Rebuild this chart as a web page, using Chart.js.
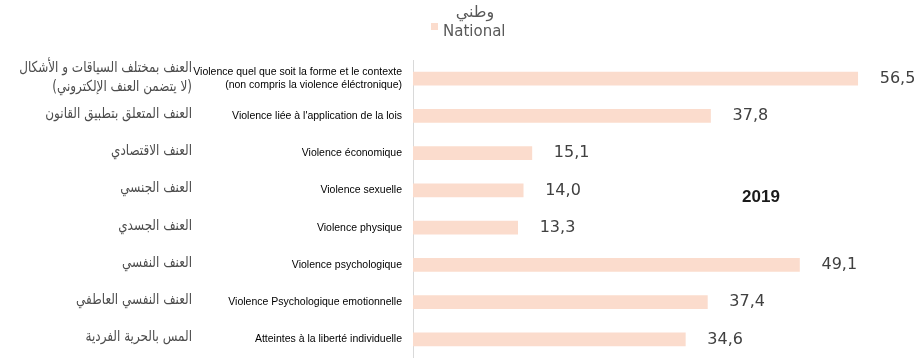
<!DOCTYPE html>
<html>
<head>
<meta charset="utf-8">
<script src="https://cdn.jsdelivr.net/npm/chart.js@4/dist/chart.umd.min.js"></script>
<style>
  html, body { margin: 0; padding: 0; background: #fff; }
  #wrap { width: 922px; height: 358px; position: relative; }
</style>
</head>
<body>
<div id="wrap"><canvas id="myChart"></canvas></div>
<script>
// categories (french on the axis, arabic drawn on the left)
var labelsFr = [
    ['Violence quel que soit la forme et le contexte', '(non compris la violence éléctronique)'],
    "Violence liée à l'application de la lois",
    'Violence économique',
    'Violence sexuelle',
    'Violence physique',
    'Violence psychologique',
    'Violence Psychologique emotionnelle',
    'Atteintes à la liberté individuelle'
];
var labelsAr = [
    ['العنف بمختلف السياقات و الأشكال', '(لا يتضمن العنف الإلكتروني)'],
    'العنف المتعلق بتطبيق القانون',
    'العنف الاقتصادي',
    'العنف الجنسي',
    'العنف الجسدي',
    'العنف النفسي',
    'العنف النفسي العاطفي',
    'المس بالحرية الفردية'
];
var national = [56.5, 37.8, 15.1, 14.0, 13.3, 49.1, 37.4, 34.6];
var barColor = '#fbdccd';

// arabic text, a bit narrowed so it fits left of the french labels
function arabicText(ctx, txt, x, y) {
    ctx.save();
    ctx.translate(x, y);
    ctx.scale(0.8, 1);
    ctx.fillText(txt, 0, 0);
    ctx.restore();
}

// arabic labels, value labels, legend and year
var extras = {
    id: 'extras',
    afterDatasetsDraw: function(chart) {
        var ctx = chart.ctx;
        var y = chart.scales.y;
        var meta = chart.getDatasetMeta(0);
        ctx.save();

        // arabic labels
        ctx.fillStyle = '#4d4d4d';
        ctx.font = '15px "DejaVu Sans"';
        ctx.textAlign = 'right';
        ctx.textBaseline = 'middle';
        ctx.direction = 'rtl';
        labelsAr.forEach(function(l, i) {
            var cy = y.getPixelForValue(i);
            if (Array.isArray(l)) {
                arabicText(ctx, l[0], 192, cy - 11);
                arabicText(ctx, l[1], 192, cy + 8);
            } else {
                arabicText(ctx, l, 192, cy - 2);
            }
        });
        ctx.direction = 'ltr';

        // values
        ctx.fillStyle = '#404040';
        ctx.font = '16px "DejaVu Sans"';
        ctx.textAlign = 'left';
        meta.data.forEach(function(bar, i) {
            ctx.fillText(national[i].toFixed(1).replace('.', ','), bar.x + 22, bar.y);
        });

        // legend
        ctx.fillStyle = barColor;
        ctx.fillRect(431, 23, 7, 7);
        ctx.fillStyle = '#595959';
        ctx.font = '15px "DejaVu Sans"';
        ctx.fillText('National', 443, 32);
        ctx.textAlign = 'center';
        ctx.direction = 'rtl';
        ctx.font = '16px "DejaVu Sans"';
        ctx.fillText('وطني', 475, 13);
        ctx.direction = 'ltr';

        // year
        ctx.fillStyle = '#1a1a1a';
        ctx.font = 'bold 17px "Liberation Sans"';
        ctx.fillText('2019', 761, 197);
        ctx.restore();
    }
};

new Chart(
    document.getElementById('myChart').getContext('2d'), {
        type: 'bar',
        data: {
            labels: labelsFr,
            datasets: [{
                label: 'National',
                data: national,
                backgroundColor: barColor,
                barThickness: 13
            }]
        },
        options: {
            indexAxis: 'y',
            responsive: true,
            maintainAspectRatio: false,
            animation: false,
            layout: {
                padding: { top: 60, right: 21, bottom: 0, left: 0 }
            },
            plugins: {
                legend: { display: false },
                tooltip: { enabled: false }
            },
            scales: {
                x: {
                    display: false,
                    min: 0,
                    max: 62
                },
                y: {
                    afterFit: function(scale) {
                        scale.width = 413;
                        scale.paddingTop = 0;
                        scale.paddingBottom = 0;
                    },
                    grid: { display: false, drawTicks: false },
                    border: { display: true, color: '#d9d9d9' },
                    ticks: {
                        padding: 11,
                        color: '#000',
                        font: { family: 'Liberation Sans', size: 10.5 }
                    }
                }
            }
        },
        plugins: [extras]
    }
);
</script>
</body>
</html>
